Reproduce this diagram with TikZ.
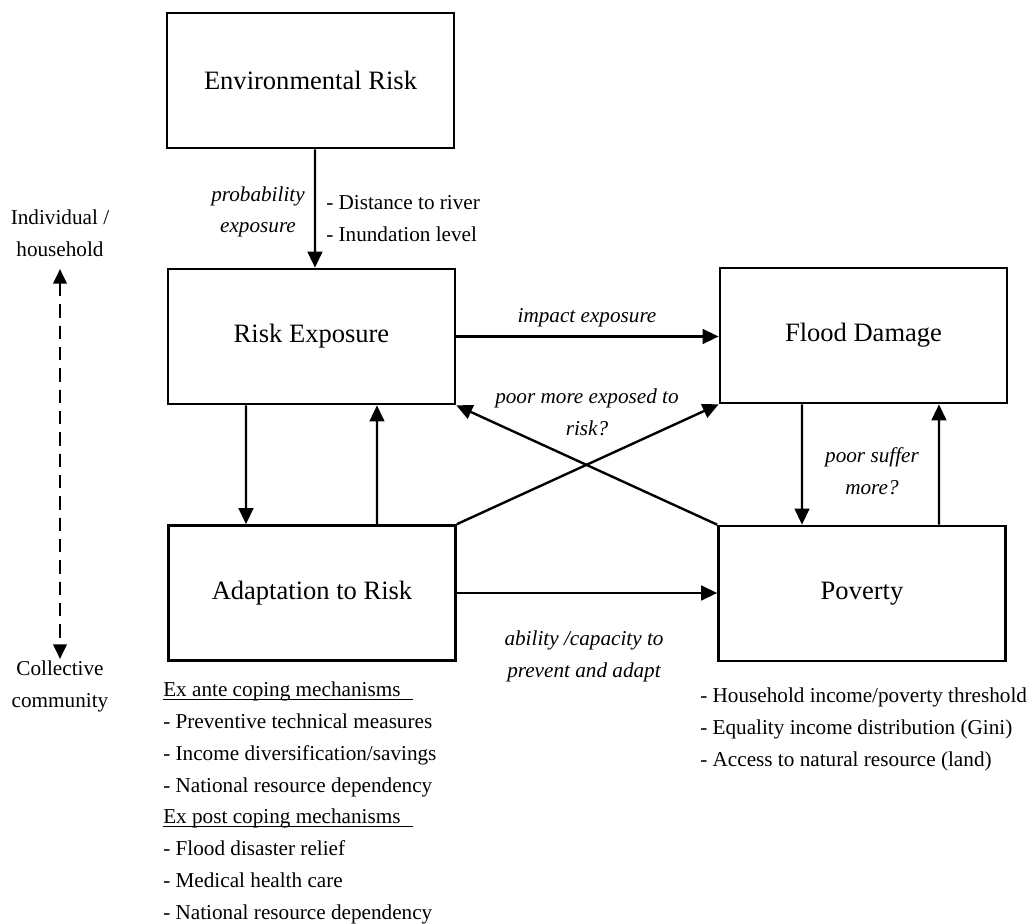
\documentclass[tikz,border=0pt]{standalone}
\usepackage{fontspec}
\setmainfont{Liberation Serif}
\usetikzlibrary{arrows.meta}
\begin{document}
\begin{tikzpicture}[x=0.75pt,y=-0.75pt,
  box/.style={draw, line width=2pt, minimum width=215.25pt, minimum height=101.25pt,
    inner sep=0pt, font=\fontsize{19.9}{24}\selectfont},
  lbl/.style={font=\fontsize{15.9}{23.85}\selectfont, inner sep=0pt, align=center},
  ilbl/.style={lbl, font=\fontsize{15.9}{23.85}\selectfont\itshape},
  item/.style={font=\fontsize{15.9}{23.85}\selectfont, inner sep=0pt, anchor=base west},
  arr/.style={line width=1.8pt, -{Triangle[length=12pt,width=11pt]}},
  dasharr/.style={line width=2pt, dash pattern=on 10pt off 6pt,
    {Triangle[length=11pt,width=10pt]}-{Triangle[length=11pt,width=10pt]}},
  uline/.style={line width=0.75pt},
]
\path[use as bounding box] (0,0) rectangle (1032,924);

% the five boxes
\node[box] (env) at (310.5,80.5) {Environmental Risk};
\node[box] (re)  at (311.5,336.5) {Risk Exposure};
\node[box] (fd)  at (863.5,335.5) {Flood Damage};
\node[box] (ar)  at (312,593) {Adaptation to Risk};
\node[box] (pv)  at (862,593.5) {Poverty};

% vertical links
\draw[arr] ([xshift=3.4pt]env.south) -- ([xshift=2.6pt]re.north);
\draw[arr] ([xshift=-49.1pt]re.south) -- ([xshift=-49.5pt]ar.north);
\draw[arr] ([xshift=48.75pt]ar.north) -- ([xshift=49.1pt]re.south);
\draw[arr] ([xshift=-46.1pt]fd.south) -- ([xshift=-45pt]pv.north);
\draw[arr] ([xshift=57.75pt]pv.north) -- ([xshift=56.6pt]fd.south);

% horizontal and crossing links
\draw[arr] (re.east) -- (re.east -| fd.west);
\draw[arr] (ar.east) -- (ar.east -| pv.west);
\draw[arr] (ar.north east) -- (fd.south west);
\draw[arr] (pv.north west) -- (re.south east);

% link labels
\node[ilbl] (pe) at (258,212) {probability\\exposure};
\node[lbl, align=left, anchor=west] (dist) at (326,218.5) {- Distance to river\\- Inundation level};
\node[ilbl] (impact) at (587,318) {impact exposure};
\node[ilbl] (poorexp) at (587,412) {poor more exposed to\\risk?};
\node[ilbl] (suffer) at (872,471) {poor suffer\\more?};
\node[ilbl] (ability) at (584,656) {ability /capacity to\\prevent and adapt};

% scale axis on the left
\node[lbl] (indiv) at (60,233) {Individual /\\household};
\node[lbl] (coll) at (60,686.5) {Collective\\community};
\coordinate (vtop) at (60,269);
\coordinate (vbot) at (60,659);
\draw[dasharr] (vtop) -- (vbot);

% coping mechanisms
\node[item] (l1) at (163,696.7) {Ex ante coping mechanisms};
\node[item] (l2) at (163,728.5) {- Preventive technical measures};
\node[item] (l3) at (163,760.3) {- Income diversification/savings};
\node[item] (l4) at (163,792.1) {- National resource dependency};
\node[item] (l5) at (163,823.9) {Ex post coping mechanisms};
\node[item] (l6) at (163,855.7) {- Flood disaster relief};
\node[item] (l7) at (163,887.5) {- Medical health care};
\node[item] (l8) at (163,919.3) {- National resource dependency};
\draw[uline] ([yshift=-2.2pt]l1.base west) -- ++(187.5pt,0);
\draw[uline] ([yshift=-2.2pt]l5.base west) -- ++(187.5pt,0);

% poverty indicators
\node[item] (r1) at (700,702.5) {- Household income/poverty threshold};
\node[item] (r2) at (700,734.3) {- Equality income distribution (Gini)};
\node[item] (r3) at (700,766.1) {- Access to natural resource (land)};
\end{tikzpicture}
\end{document}
